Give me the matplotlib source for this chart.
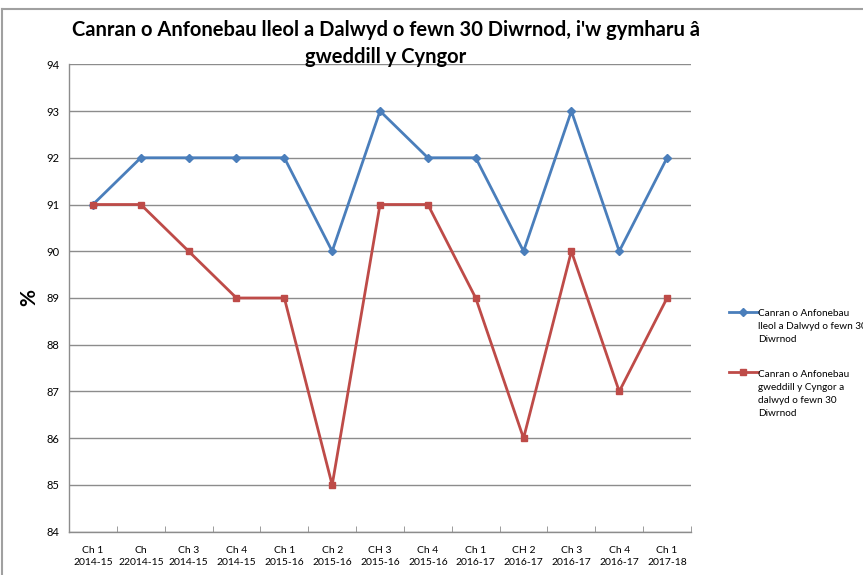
import matplotlib
matplotlib.use('Agg')
import matplotlib.pyplot as plt
import numpy as np

plt.rcParams['font.family'] = ['Lato', 'DejaVu Sans']

# categorïau (chwarteri)
chwarteri = ['Ch 1\n2014-15', 'Ch\n22014-15', 'Ch 3\n2014-15', 'Ch 4\n2014-15',
             'Ch 1\n2015-16', 'Ch 2\n2015-16', 'CH 3\n2015-16', 'Ch 4\n2015-16',
             'Ch 1\n2016-17', 'CH 2\n2016-17', 'Ch 3\n2016-17', 'Ch 4\n2016-17',
             'Ch 1\n2017-18']
lleol = [91, 92, 92, 92, 92, 90, 93, 92, 92, 90, 93, 90, 92]
gweddill = [91, 91, 90, 89, 89, 85, 91, 91, 89, 86, 90, 87, 89]
label_lleol = 'Canran o Anfonebau\nlleol a Dalwyd o fewn 30\nDiwrnod'
label_gweddill = 'Canran o Anfonebau\ngweddill y Cyngor a\ndalwyd o fewn 30\nDiwrnod'

glas = '#4A7EBB'
coch = '#BE4B48'
llwyd = '#8C8C8C'

fig = plt.figure(figsize=(8.63, 5.75), dpi=100)
ax = fig.add_axes([0.0800, 0.0753, 0.7207, 0.8129])

x = range(len(chwarteri))
l1, = ax.plot(x, lleol, color=glas, lw=2, marker='D', ms=4.5, label=label_lleol)
l2, = ax.plot(x, gweddill, color=coch, lw=2, marker='s', ms=5, label=label_gweddill)

ax.set_xlim(-0.5, len(chwarteri) - 0.5)
ax.set_ylim(84, 94)
ax.set_yticks(range(84, 95))
ax.set_xticks(list(x))
ax.set_xticklabels(chwarteri, fontsize=7.5, linespacing=1.5)
ax.tick_params(axis='x', length=0, pad=10)
ax.set_xticks([i + 0.5 for i in range(len(chwarteri))], minor=True)
ax.tick_params(axis='x', which='minor', direction='in', length=4, color=llwyd)
ax.tick_params(axis='y', length=0, labelsize=8, pad=7)
ax.grid(axis='y', color=llwyd, lw=1)
ax.set_axisbelow(True)
for s in ['top', 'right']:
    ax.spines[s].set_visible(False)
for s in ['left', 'bottom']:
    ax.spines[s].set_color(llwyd)
    ax.spines[s].set_linewidth(1)

ax.set_ylabel('%', fontsize=15, fontweight='bold')
ax.yaxis.set_label_coords(-0.048, 0.5)

fig.text(0.447, 0.947, "Canran o Anfonebau lleol a Dalwyd o fewn 30 Diwrnod, i'w gymharu â",
         ha='center', va='center', fontsize=14.5, fontweight='bold')
fig.text(0.447, 0.901, 'gweddill y Cyngor',
         ha='center', va='center', fontsize=14.5, fontweight='bold')

# dwy allwedd ar wahân, un i bob cyfres
for llinell, ypos, n in [(l1, 0.4625, 3), (l2, 0.357, 4)]:
    leg = fig.legend(handles=[llinell], loc='upper left', bbox_to_anchor=(0.8445, ypos),
                     frameon=False, fontsize=7.2, handlelength=2.9,
                     handletextpad=0.05, borderaxespad=0, borderpad=0)
    for t in leg.get_texts():
        t.set_linespacing(1.6)
    # symud y llinell at linell gyntaf y testun
    for h in leg.legend_handles:
        h.set_ydata(np.asarray(h.get_ydata()) + (n - 1) / 2 * 10.8)

# ffin y siart
fig.add_artist(plt.Line2D([0.0025, 0.0025], [0, 0.9835], color='#A0A0A0', lw=1.5,
                          transform=fig.transFigure))
fig.add_artist(plt.Line2D([0.0025, 1], [0.9835, 0.9835], color='#A0A0A0', lw=1.5,
                          transform=fig.transFigure))

fig.savefig('out.png', dpi=100)
